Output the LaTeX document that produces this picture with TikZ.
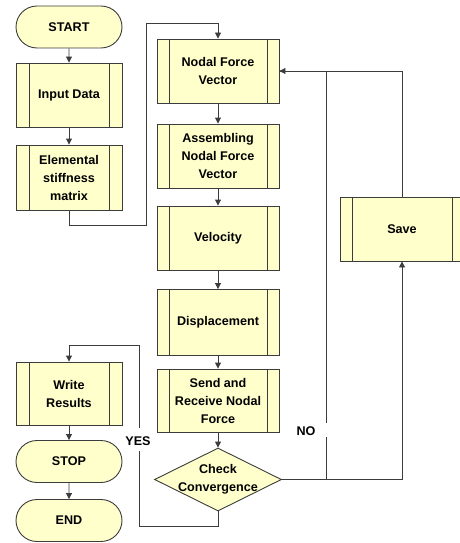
\documentclass[tikz,border=0pt]{standalone}
\usepackage{fontspec}
\setmainfont{Liberation Sans}
\usetikzlibrary{arrows.meta,shapes.misc,shapes.geometric}
\definecolor{boxfill}{RGB}{255,255,204}
\definecolor{linecol}{RGB}{60,60,60}
\begin{document}
\begin{tikzpicture}[x=1pt,y=-1pt,line width=0.9pt,font=\fontsize{12.6}{18}\selectfont\bfseries]
\tikzstyle{term}=[rounded rectangle,draw=linecol,fill=boxfill,minimum width=106pt,minimum height=42pt,inner sep=0pt]
\tikzstyle{procl}=[rectangle,draw=linecol,fill=boxfill,minimum width=106pt,minimum height=64pt,inner sep=0pt,align=center,
  path picture={\draw[linecol] ([xshift=13pt]path picture bounding box.north west) -- ([xshift=13pt]path picture bounding box.south west)
  ([xshift=-13pt]path picture bounding box.north east) -- ([xshift=-13pt]path picture bounding box.south east);}]
\tikzstyle{procm}=[rectangle,draw=linecol,fill=boxfill,minimum width=122pt,minimum height=64pt,inner sep=0pt,align=center,
  path picture={\draw[linecol] ([xshift=12pt]path picture bounding box.north west) -- ([xshift=12pt]path picture bounding box.south west)
  ([xshift=-12pt]path picture bounding box.north east) -- ([xshift=-12pt]path picture bounding box.south east);}]
\tikzstyle{decision}=[diamond,draw=linecol,fill=boxfill,minimum width=127pt,minimum height=63pt,inner sep=0pt]
\tikzstyle{arr}=[draw=linecol,-{Triangle[length=6pt,width=6pt]}]
\tikzstyle{line}=[draw=linecol]
\tikzstyle{lbl}=[inner sep=0pt,align=center]
\useasboundingbox (0,0) rectangle (459,543);
\node [term] (start) at (69,27) {START};
\node [procl] (input) at (69,95) {Input Data};
\node [procl,minimum height=65pt] (elem) at (69,177.5) {Elemental\\stiffness\\matrix};
\node [procl,minimum height=63pt] (write) at (69,393.5) {Write\\Results};
\node [term] (stop) at (69,461.5) {STOP};
\node [term] (finish) at (69,520.5) {END};
\node [procm] (nodal) at (218,71) {Nodal Force\\Vector};
\node [procm] (assem) at (218,156) {Assembling\\Nodal Force\\Vector};
\node [procm] (veloc) at (218,238) {Velocity};
\node [procm,minimum height=66pt] (displ) at (218,322.5) {Displacement};
\node [procm,minimum height=63pt] (send) at (218,400.5) {Send and\\Receive Nodal\\Force};
\node [decision] (check) at (218,479.5) {};
\node [lbl] (checktxt) at (check) {Check\\Convergence};
\node [procm,minimum width=124pt] (save) at (402,229) {Save};
\node [lbl] (yes) at (138,441) {YES};
\node [lbl] (no) at (306,431) {NO};
\coordinate (jog1) at (146,225);
\coordinate (jog2) at (146,23);
\coordinate (nojoin) at (326,479.5);
\coordinate (nogap1) at (326,437);
\coordinate (nogap2) at (326,423);
\coordinate (yesbot) at (139,526);
\coordinate (yesgap1) at (139,451);
\coordinate (yesgap2) at (139,428);
\coordinate (yesturn) at (139,345);
\draw [arr] (start) -- (input);
\draw [arr] (input) -- (elem);
\draw [arr] (elem.south) |- (jog1) -- (jog2) -| (nodal.north);
\draw [arr] (nodal) -- (assem);
\draw [arr] (assem) -- (veloc);
\draw [arr] (veloc) -- (displ);
\draw [arr] (displ) -- (send);
\draw [arr] (send) -- (check);
\draw [arr] (check.east) -| (save.south);
\draw [arr] (save.north) |- (nodal.east);
\draw [line] (nojoin) -- (nogap1);
\draw [line] (nogap2) |- (nodal.east);
\draw [line] (check.south) |- (yesbot) -- (yesgap1);
\draw [arr] (yesgap2) -- (yesturn) -| (write.north);
\draw [arr] (write) -- (stop);
\draw [arr] (stop) -- (finish);
\end{tikzpicture}
\end{document}
